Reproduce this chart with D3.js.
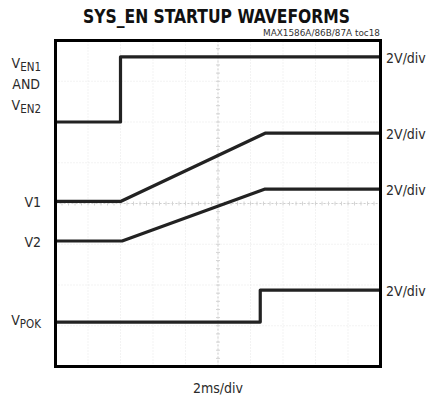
<!DOCTYPE html>
<head>
    <meta charset="utf-8">
    <title>SYS_EN startup</title>
    <script type="text/javascript" src="https://d3js.org/d3.v7.min.js"></script>
    <style>
        body { margin: 0; background: #fff; }
        svg text { font-family: "Liberation Sans Narrow", "DejaVu Sans Condensed", "Roboto", sans-serif; fill: #2a2a2a; }
    </style>
</head>
<body>
<div id="container"></div>
<script>
    //---------------------------- DATA ----------------------------//
    // time in ms (2ms/div), volts (2V/div), channel zero in divisions from bottom
    const channelNames = ["VEN", "V1", "V2", "VPOK"];
    const channelZero = [6.0, 4.05, 3.08, 1.09];

    const venTime = [0, 4.0, 4.0, 20];
    const venVolts = [0, 0, 3.2, 3.2];

    const v1Time = [0, 4.0, 12.9, 20];
    const v1Volts = [0, 0, 3.35, 3.35];

    const v2Time = [0, 4.1, 12.9, 20];
    const v2Volts = [0, 0, 2.55, 2.55];

    const pokTime = [0, 12.6, 12.6, 20];
    const pokVolts = [0, 0, 1.57, 1.57];

    const voltsPerDiv = 2;
    const xDivs = 10, yDivs = 8;

    //---------------------------- SVG ----------------------------//
    const width = 439, height = 400;
    const svg = d3.select("#container").append("svg")
        .attr("width", width)
        .attr("height", height);

    const xScale = d3.scaleLinear().domain([0, 20]).range([55.5, 380.5]);
    const yScale = d3.scaleLinear().domain([0, yDivs]).range([366.5, 40.5]);

    //---------------------------- GRID ----------------------------//
    const grid = svg.append("g");
    grid.selectAll(".vg")
        .data(d3.range(1, xDivs))
        .enter().append("line")
        .attr("x1", d => xScale(d * 2)).attr("x2", d => xScale(d * 2))
        .attr("y1", yScale(0)).attr("y2", yScale(yDivs))
        .attr("stroke", "#e6e6e6").attr("stroke-dasharray", "1,2");
    grid.selectAll(".hg")
        .data(d3.range(1, yDivs))
        .enter().append("line")
        .attr("y1", d => yScale(d)).attr("y2", d => yScale(d))
        .attr("x1", xScale(0)).attr("x2", xScale(20))
        .attr("stroke", "#e6e6e6").attr("stroke-dasharray", "1,2");

    // centre crosshair with minor ticks
    grid.append("line")
        .attr("x1", xScale(10)).attr("x2", xScale(10))
        .attr("y1", yScale(0)).attr("y2", yScale(yDivs))
        .attr("stroke", "#cfcfcf").attr("stroke-dasharray", "2,2");
    grid.append("line")
        .attr("y1", yScale(4)).attr("y2", yScale(4))
        .attr("x1", xScale(0)).attr("x2", xScale(20))
        .attr("stroke", "#cfcfcf").attr("stroke-dasharray", "2,2");
    grid.selectAll(".xt")
        .data(d3.range(0, 20.01, 0.4))
        .enter().append("line")
        .attr("x1", d => xScale(d)).attr("x2", d => xScale(d))
        .attr("y1", yScale(4) - 2).attr("y2", yScale(4) + 2)
        .attr("stroke", "#d4d4d4");
    grid.selectAll(".yt")
        .data(d3.range(0, 8.01, 0.2))
        .enter().append("line")
        .attr("y1", d => yScale(d)).attr("y2", d => yScale(d))
        .attr("x1", xScale(10) - 2).attr("x2", xScale(10) + 2)
        .attr("stroke", "#d4d4d4");

    //---------------------------- TRACES ----------------------------//
    const traces = [
        {t: venTime, v: venVolts, zero: channelZero[0]},
        {t: v1Time, v: v1Volts, zero: channelZero[1]},
        {t: v2Time, v: v2Volts, zero: channelZero[2]},
        {t: pokTime, v: pokVolts, zero: channelZero[3]}
    ];

    const line = d3.line()
        .x(d => xScale(d[0]))
        .y(d => yScale(d[1]));

    svg.append("g").selectAll("path")
        .data(traces)
        .enter().append("path")
        .attr("d", d => line(d.t.map((t, i) => [t, d.zero + d.v[i] / voltsPerDiv])))
        .attr("fill", "none")
        .attr("stroke", "#222")
        .attr("stroke-width", 3.2)
        .attr("stroke-linejoin", "round");

    //---------------------------- FRAME ----------------------------//
    svg.append("rect")
        .attr("x", xScale(0)).attr("y", yScale(yDivs))
        .attr("width", xScale(20) - xScale(0))
        .attr("height", yScale(0) - yScale(yDivs))
        .attr("fill", "none")
        .attr("stroke", "#000")
        .attr("stroke-width", 3);

    //---------------------------- TEXT ----------------------------//
    svg.append("text")
        .attr("x", 83).attr("y", 23)
        .attr("textLength", 267).attr("lengthAdjust", "spacingAndGlyphs")
        .style("font-size", "19px").style("font-weight", "bold").style("fill", "#111")
        .text("SYS_EN STARTUP WAVEFORMS");

    svg.append("text")
        .attr("x", 263).attr("y", 36)
        .attr("textLength", 117).attr("lengthAdjust", "spacingAndGlyphs")
        .style("font-size", "9px").style("fill", "#333")
        .text("MAX1586A/86B/87A toc18");

    svg.append("text")
        .attr("x", 218).attr("y", 393)
        .attr("text-anchor", "middle")
        .style("font-size", "14px")
        .text("2ms/div");

    // left labels
    function subLabel(x, y, main, sub) {
        const t = svg.append("text")
            .attr("x", x).attr("y", y)
            .attr("text-anchor", "end")
            .style("font-size", "14px");
        t.append("tspan").text(main);
        t.append("tspan").attr("dy", 3).style("font-size", "11.5px").text(sub);
        return t;
    }
    subLabel(41, 68, "V", "EN1");
    svg.append("text").attr("x", 40).attr("y", 89).attr("text-anchor", "end")
        .style("font-size", "14px").text("AND");
    subLabel(41, 110, "V", "EN2");

    svg.append("text").attr("x", 41).attr("y", yScale(channelZero[1]) + 6)
        .attr("text-anchor", "end").style("font-size", "14px").text("V1");
    svg.append("text").attr("x", 41).attr("y", yScale(channelZero[2]) + 6)
        .attr("text-anchor", "end").style("font-size", "14px").text("V2");
    subLabel(41, yScale(channelZero[3]) + 3, "V", "POK");

    // right scale labels, one per channel at its high level
    const highLevels = traces.map(d => d.zero + d3.max(d.v) / voltsPerDiv);
    svg.append("g").selectAll("text")
        .data(highLevels)
        .enter().append("text")
        .attr("x", 386)
        .attr("y", d => yScale(d) + 6)
        .style("font-size", "14px")
        .text("2V/div");
</script>
</body>
